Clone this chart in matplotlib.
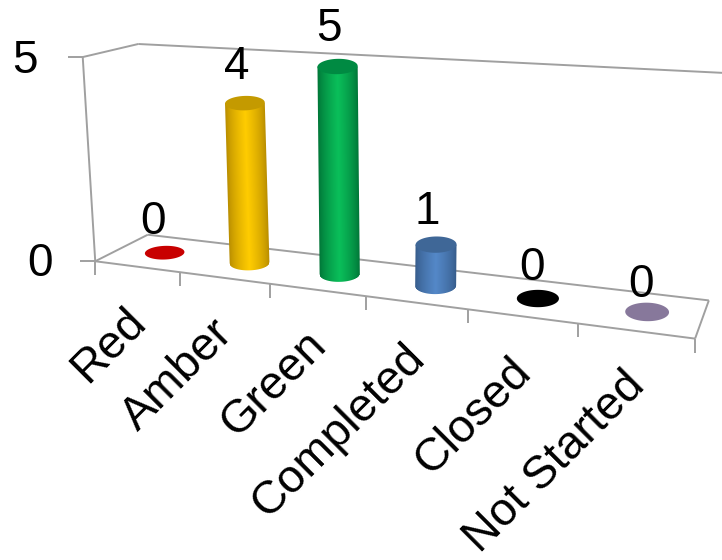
import numpy as np
import matplotlib
matplotlib.use('Agg')
import matplotlib.pyplot as plt
from matplotlib.colors import to_rgb

categories = ['Red', 'Amber', 'Green', 'Completed', 'Closed', 'Not Started']
values = [0, 4, 5, 1, 0, 0]
y_ticks = [0, 5]

top_colors = ['#C80000', '#C49A00', '#008A42', '#3F6797', '#000000', '#87789B']
light_colors = ['#C80000', '#FFCC00', '#0ABF5A', '#5488C8', '#000000', '#87789B']
dark_colors = ['#900000', '#B58A00', '#007236', '#355A88', '#000000', '#6A5C80']

plt.rcParams['font.family'] = ['Liberation Sans', 'DejaVu Sans']
AXIS_GRAY = '#A0A0A0'
LW = 1.4
RAD_U, RAD_D = 0.19, 0.24
BODY_SCALE = 0.98
# small hand adjustments for the value labels, in pixels
label_dx = [-4, 0, -1, -1, 2, 2]
label_dy = [0, -2, -2, -1, 0, 4]


# camera for the fake 3D box: (category, depth, value) -> pixel
def fit_camera():
    frame = [((0, 0, 0), (96, 261)), ((6, 0, 0), (695, 339)),
             ((0, 1, 0), (147, 235)), ((6, 1, 0), (709, 300)),
             ((0, 0, 5), (82, 57)), ((0, 1, 5), (139, 44)),
             ((6, 1, 5), (724, 73))]
    a, b = [], []
    for (X, Y, Z), (x, y) in frame:
        a.append([X, Y, Z, 1, 0, 0, 0, 0, -x * X, -x * Y, -x * Z])
        b.append(x)
        a.append([0, 0, 0, 0, X, Y, Z, 1, -y * X, -y * Y, -y * Z])
        b.append(y)
    p = np.linalg.lstsq(np.array(a, float), np.array(b, float), rcond=None)[0]
    return np.append(p, 1.0).reshape(3, 4)


CAM = fit_camera()


def project(u, d, v):
    u, d, v = np.broadcast_arrays(u, d, v)
    pts = np.stack([u, d, v, np.ones_like(u, dtype=float)])
    h = CAM @ pts
    return h[0] / h[2], h[1] / h[2]


# half width, half height and tilt of a cylinder cap, most floor shear taken out
def cap_shape(cu, cd):
    a = np.linspace(0, 2 * np.pi, 181)
    x, y = project(cu + RAD_U * np.cos(a), cd + RAD_D * np.sin(a), 0)
    _, cy = project(cu, cd, 0)
    tilt = 0.3 * (y[np.argmax(x)] - cy)
    return (x.max() - x.min()) / 2, (y.max() - y.min()) / 2, tilt


# shaded side of a cylinder, rasterised row by row so the edges stay clean
def draw_body(cu, cd, val, dark, light):
    bx, by = project(cu, cd, 0)
    tx, ty = project(cu, cd, val * BODY_SCALE)
    w, h, tilt = cap_shape(cu, cd)
    x0 = int(np.floor(min(bx, tx) - w - 2))
    x1 = int(np.ceil(max(bx, tx) + w + 2))
    y0 = int(np.floor(ty - 2))
    y1 = int(np.ceil(by + h + 2))
    px, py = np.meshgrid(np.arange(x0, x1) + 0.5, np.arange(y0, y1) + 0.5)
    f = np.clip((py - by) / (ty - by), 0, 1)
    xc = bx + (tx - bx) * f
    t = np.clip((px - xc) / w, -1, 1)
    limit = by + h * np.sqrt(1 - t ** 2) + tilt * t
    alpha = (np.clip(w - np.abs(px - xc) + 0.5, 0, 1)
             * np.clip(limit - py + 0.5, 0, 1)
             * np.clip(py - ty + 0.5, 0, 1))
    shade = (1 - np.abs(t)) ** 0.7
    rgb = np.array(to_rgb(dark)) + (np.array(to_rgb(light)) - np.array(to_rgb(dark))) * shade[..., None]
    img = np.dstack([rgb, alpha])
    ax.imshow(img, extent=(x0, x1, y1, y0), origin='upper', interpolation='nearest',
              aspect='auto', zorder=3)


fig = plt.figure(figsize=(7.22, 5.6), dpi=100)
ax = fig.add_axes([0, 0, 1, 1])
ax.axis('off')


def seg(p0, p1):
    x0, y0 = project(*p0)
    x1, y1 = project(*p1)
    ax.plot([x0, x1], [y0, y1], color=AXIS_GRAY, lw=LW, solid_capstyle='butt')


n = len(categories)
top = max(y_ticks)
# floor and back wall outline
seg((0, 0, 0), (n, 0, 0))
seg((0, 0, 0), (0, 1, 0))
seg((0, 1, 0), (n, 1, 0))
seg((n, 1, 0), (n, 0, 0))
seg((0, 0, 0), (0, 0, top))
seg((0, 0, top), (0, 1, top))
seg((0, 1, top), (n, 1, top))

# category ticks hang below the front edge
for i in range(n + 1):
    x, y = project(i, 0, 0)
    ax.plot([x, x], [y, y + 14], color=AXIS_GRAY, lw=LW, solid_capstyle='butt')

for t in y_ticks:
    x, y = project(0, 0, t)
    ax.plot([x - 15, x], [y, y], color=AXIS_GRAY, lw=LW, solid_capstyle='butt')

ax.text(38, 56, str(y_ticks[1]), fontsize=33, ha='right', va='center_baseline')
ax.text(53, 259, str(y_ticks[0]), fontsize=33, ha='right', va='center_baseline')

theta = np.linspace(0, 2 * np.pi, 121)
for i, val in enumerate(values):
    cu, cd = i + 0.52, 0.5
    if val > 0:
        draw_body(cu, cd, val, dark_colors[i], light_colors[i])
    cx, cy = project(cu, cd, val * BODY_SCALE)
    w, h, tilt = cap_shape(cu, cd)
    ax.fill(cx + w * np.cos(theta), cy + h * np.sin(theta) + tilt * np.cos(theta),
            color=top_colors[i], lw=0, zorder=4)

# value labels sit a fixed distance above the cylinder top
for i, val in enumerate(values):
    x, y = project(i + 0.52, 0.5, val)
    ax.text(x - 8 + label_dx[i], y - 36 + label_dy[i], str(val), fontsize=33,
            ha='center', va='center_baseline', zorder=5)

for i, name in enumerate(categories):
    x, y = project(i + 0.5, 0, 0)
    ax.text(x - 13, y + 33, name, fontsize=33.5, rotation=45, rotation_mode='anchor',
            ha='right', va='top', zorder=5)

ax.set_xlim(0, 722)
ax.set_ylim(560, 0)
fig.savefig('out.png', dpi=100)
